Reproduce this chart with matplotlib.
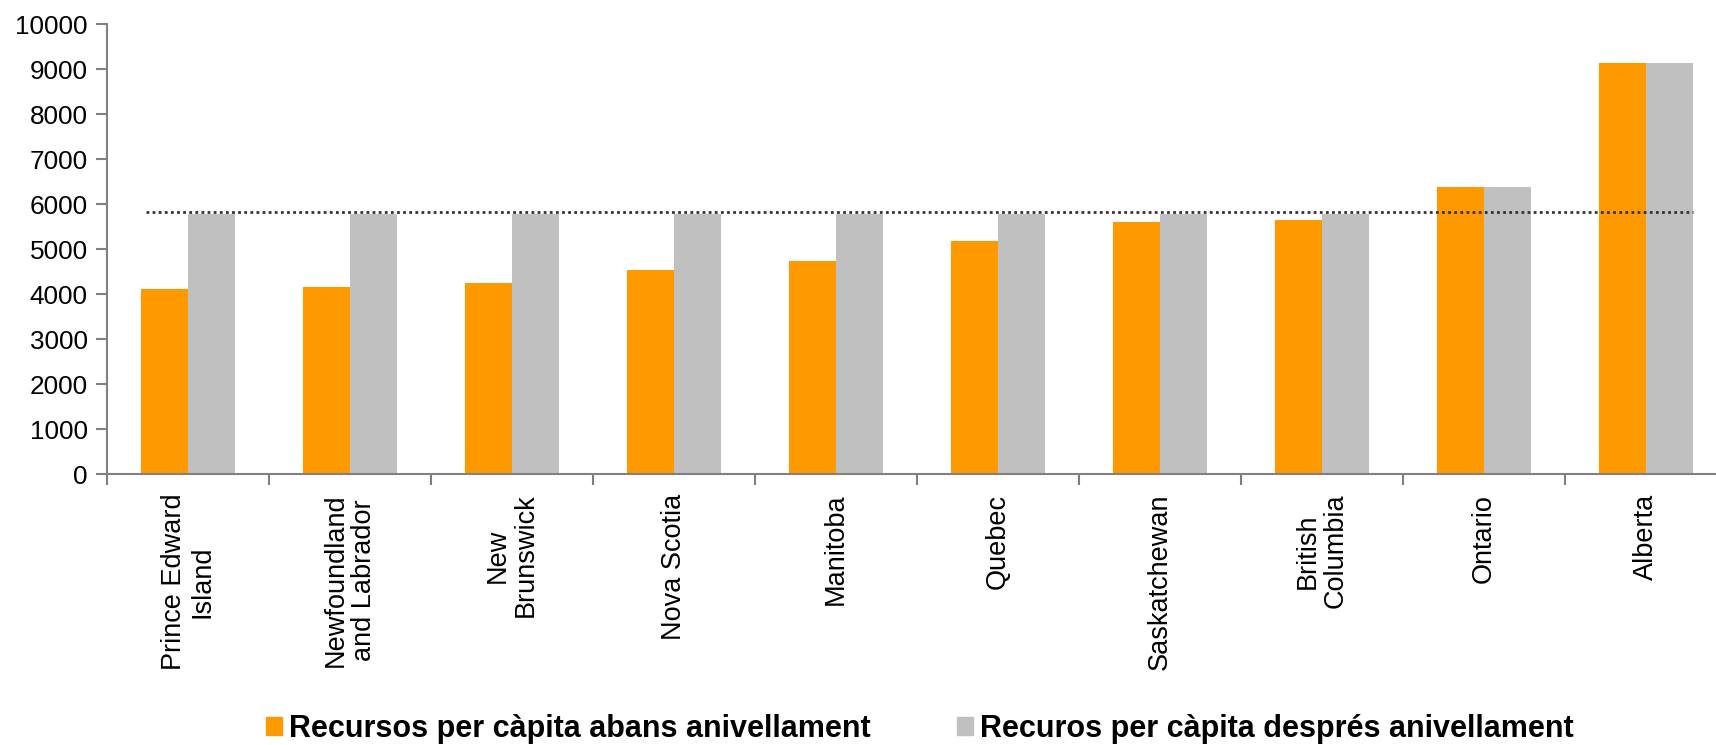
## Importing libraries
import matplotlib.pyplot as plt
import numpy as np
from matplotlib.patches import Patch

## Data
provinces = ["Prince Edward\nIsland", "Newfoundland\nand Labrador", "New\nBrunswick", "Nova Scotia",
             "Manitoba", "Quebec", "Saskatchewan", "British\nColumbia", "Ontario", "Alberta"]
before = [4120, 4170, 4260, 4550, 4730, 5190, 5610, 5650, 6390, 9130]  # abans anivellament
after = [5790, 5790, 5790, 5790, 5790, 5790, 5790, 5790, 6390, 9130]   # després anivellament
average = 5820  # dotted reference line
yticks = [0, 1000, 2000, 3000, 4000, 5000, 6000, 7000, 8000, 9000, 10000]

label_before = "Recursos per càpita abans anivellament"
label_after = "Recuros per càpita després anivellament"

orange = "#FF9900"
grey = "#C0C0C0"
axis_col = "#808080"

plt.rcParams['font.family'] = ['Liberation Sans', 'DejaVu Sans']

## Creating plot
fig = plt.figure(figsize=(17.16, 7.45), dpi=100)
ax = fig.add_axes([0.0624, 0.3634, 0.944, 0.604])

x = np.arange(len(provinces))
w = 0.29
ax.bar(x - w / 2, before, width=w, color=orange, linewidth=0)
ax.bar(x + w / 2, after, width=w, color=grey, linewidth=0)
ax.hlines(average, -0.26, x[-1] + w, colors="#333333", linestyles=(0, (1, 1.2)), linewidth=2)

ax.set_xlim(-0.5, len(provinces) - 0.5)
ax.set_ylim(0, 10000)
ax.set_yticks(yticks)
ax.tick_params(axis='y', labelsize=18.8, length=8, width=1.5, color=axis_col, pad=6)

## labels at the centres, tick marks at the boundaries
ax.set_xticks(x)
ax.set_xticklabels(provinces, rotation=90, fontsize=19.5, va='top', ha='center',
                   multialignment='center', linespacing=1.1)
ax.tick_params(axis='x', which='major', length=0, pad=14)
ax.set_xticks(np.arange(len(provinces) + 1) - 0.5, minor=True)
ax.tick_params(axis='x', which='minor', length=8, width=1.5, color=axis_col)

for s in ['top', 'right']:
    ax.spines[s].set_visible(False)
for s in ['left', 'bottom']:
    ax.spines[s].set_color(axis_col)
    ax.spines[s].set_linewidth(1.5)

## Legend at the bottom
handles = [Patch(color=orange, label=label_before), Patch(color=grey, label=label_after)]
fig.legend(handles=handles, loc='center', bbox_to_anchor=(0.536, 0.0215), ncol=2, frameon=False,
           prop={'size': 22, 'weight': 'bold'}, handlelength=0.53, handleheight=0.53,
           handletextpad=0.25, columnspacing=2.8, borderpad=0)

plt.savefig("out.png", dpi=100)
